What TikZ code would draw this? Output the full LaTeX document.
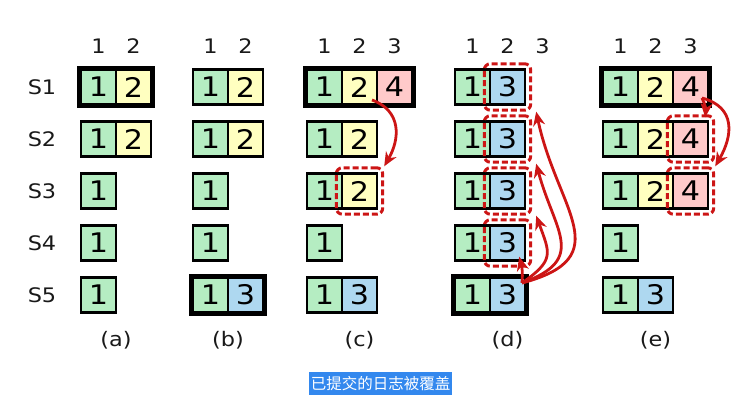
\documentclass[tikz,border=0pt]{standalone}
\usepackage{fontspec}
\setmainfont{DejaVu Sans}[FakeStretch=1.12]
\newfontfamily\cjk{Noto Sans CJK SC}
\usetikzlibrary{arrows.meta,fit,calc}
\definecolor{cg}{HTML}{B5EDC2}
\definecolor{cy}{HTML}{FFFFC0}
\definecolor{cp}{HTML}{FFCACA}
\definecolor{cb}{HTML}{AED8F0}
\definecolor{hlred}{HTML}{CC1515}
\definecolor{capblue}{HTML}{3388EE}
\newcommand\logrow[4]{%
  \foreach \k/\c/\v in {#4}{%
    \node[cell,fill=\c] (#1#3\k) at ({#2+17.5+35*(\k-1)},{-87-52*(#3-1)}) {\v};}}
\begin{document}
\begin{tikzpicture}[x=1pt,y=1pt,
  cell/.style={draw=black, line width=2.4pt, minimum width=35pt, minimum height=35pt,
    inner sep=0pt, font=\fontsize{27}{27}\selectfont, text=black},
  boldrow/.style={draw=black, line width=4.8pt},
  hdr/.style={font=\fontsize{20}{20}\selectfont, text=black!90, inner sep=0pt},
  hl/.style={draw=hlred, line width=3pt, dash pattern=on 6pt off 3pt,
    rounded corners=6pt, inner sep=4.5pt},
  arr/.style={draw=hlred, line width=2.8pt, -{Stealth[length=14pt,width=12pt]}},
  capbox/.style={fill=capblue, text=white, font=\cjk\fontsize{15.5}{15.5}\selectfont,
    minimum width=143pt, minimum height=23pt, inner sep=0pt}
]
\useasboundingbox (0,0) rectangle (756,-414);
% server labels
\foreach \i in {1,...,5}{\node[hdr] (s\i) at (42,{-87-52*(\i-1)}) {S\i};}
% column headers
\foreach \d/\x/\n in {a/81/2,b/193/2,c/307/3,d/455/3,e/603/3}{
  \foreach \k in {1,...,\n}{\node[hdr] (h\d\k) at ({\x+17.5+35*(\k-1)},-46) {\k};}}
% (a)
\logrow{a}{81}{1}{1/cg/1,2/cy/2}
\logrow{a}{81}{2}{1/cg/1,2/cy/2}
\logrow{a}{81}{3}{1/cg/1}
\logrow{a}{81}{4}{1/cg/1}
\logrow{a}{81}{5}{1/cg/1}
% (b)
\logrow{b}{193}{1}{1/cg/1,2/cy/2}
\logrow{b}{193}{2}{1/cg/1,2/cy/2}
\logrow{b}{193}{3}{1/cg/1}
\logrow{b}{193}{4}{1/cg/1}
\logrow{b}{193}{5}{1/cg/1,2/cb/3}
% (c)
\logrow{c}{307}{1}{1/cg/1,2/cy/2,3/cp/4}
\logrow{c}{307}{2}{1/cg/1,2/cy/2}
\logrow{c}{307}{3}{1/cg/1,2/cy/2}
\logrow{c}{307}{4}{1/cg/1}
\logrow{c}{307}{5}{1/cg/1,2/cb/3}
% (d)
\logrow{d}{455}{1}{1/cg/1,2/cb/3}
\logrow{d}{455}{2}{1/cg/1,2/cb/3}
\logrow{d}{455}{3}{1/cg/1,2/cb/3}
\logrow{d}{455}{4}{1/cg/1,2/cb/3}
\logrow{d}{455}{5}{1/cg/1,2/cb/3}
% (e)
\logrow{e}{603}{1}{1/cg/1,2/cy/2,3/cp/4}
\logrow{e}{603}{2}{1/cg/1,2/cy/2,3/cp/4}
\logrow{e}{603}{3}{1/cg/1,2/cy/2,3/cp/4}
\logrow{e}{603}{4}{1/cg/1}
\logrow{e}{603}{5}{1/cg/1,2/cb/3}
% leader outlines
\draw[boldrow] (a11.north west) rectangle (a12.south east);
\draw[boldrow] (b51.north west) rectangle (b52.south east);
\draw[boldrow] (c11.north west) rectangle (c13.south east);
\draw[boldrow] (d51.north west) rectangle (d52.south east);
\draw[boldrow] (e11.north west) rectangle (e13.south east);
% highlighted entries
\node[hl, fit=(c32)] (c3h) {};
\node[hl, fit=(d12)] (d1h) {};
\node[hl, fit=(d22)] (d2h) {};
\node[hl, fit=(d32)] (d3h) {};
\node[hl, fit=(d42)] (d4h) {};
\node[hl, fit=(e23)] (e2h) {};
\node[hl, fit=(e33)] (e3h) {};
% arrows (c)
\coordinate (cs) at ([xshift=12.5pt,yshift=-13pt]c12.center);
\draw[arr] (cs) to[out=-20,in=60,looseness=1.2] (c3h.north east);
% arrows (d)
\coordinate (ds) at ([xshift=14.5pt,yshift=12pt]d52.center);
\draw[arr] (ds) to[out=85,in=-75] ([xshift=-13pt,yshift=11pt]d4h.south east);
\draw[arr] (ds) to[out=35,in=-70,looseness=1.5] ([xshift=4pt]d3h.south east);
\draw[arr] (ds) to[out=20,in=-75,looseness=1.5] ([xshift=4pt]d2h.south east);
\draw[arr] (ds) to[out=15,in=-78,looseness=1.5] ([xshift=4pt]d1h.south east);
% arrows (e)
\coordinate (es) at ([xshift=11.5pt,yshift=-11pt]e13.center);
\draw[arr] (es) to[bend left=15] ([xshift=-10pt,yshift=-3pt]e2h.north east);
\draw[arr] (es) to[out=-15,in=60,looseness=1.3] (e3h.north east);
% sub-labels
\node[hdr] (la) at (116,-340) {(a)};
\node[hdr] (lb) at (228,-340) {(b)};
\node[hdr] (lc) at (359.5,-340) {(c)};
\node[hdr] (ld) at (507.5,-340) {(d)};
\node[hdr] (le) at (655.5,-340) {(e)};
% caption
\node[capbox] (caption) at (380.5,-383.5) {已提交的日志被覆盖};
\end{tikzpicture}
\end{document}
